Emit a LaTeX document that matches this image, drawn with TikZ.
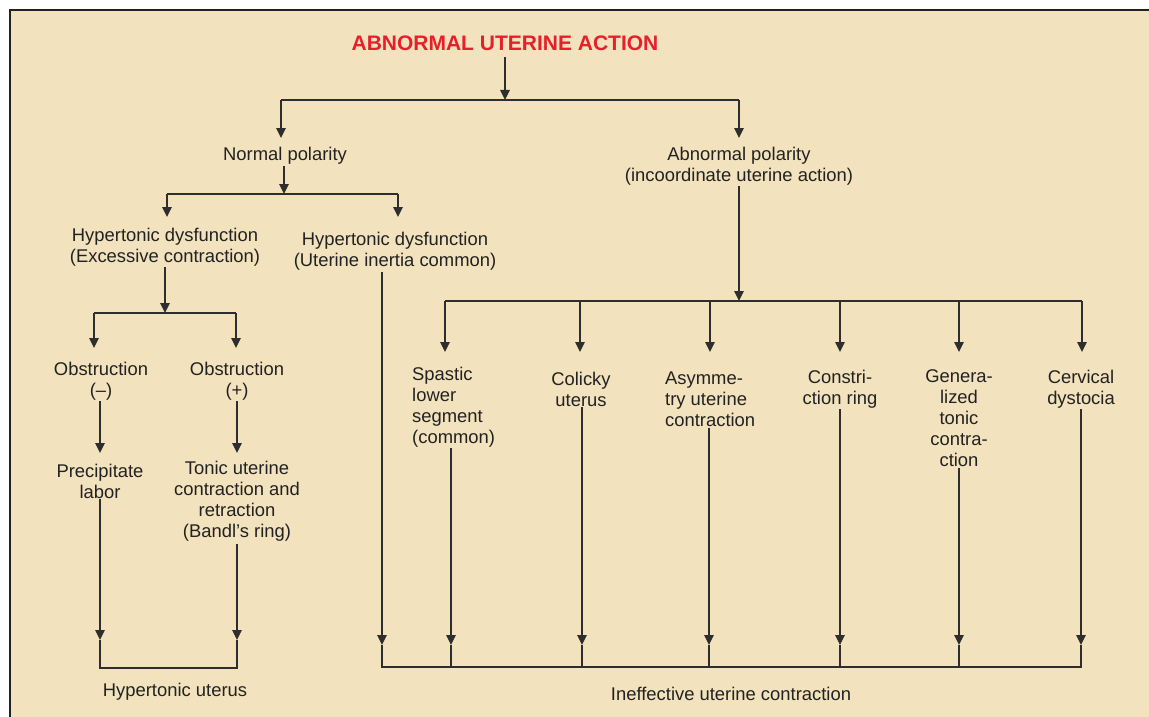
\documentclass[tikz,border=0pt]{standalone}
\usepackage{fontspec}
\setmainfont{Liberation Sans}
\usetikzlibrary{arrows.meta}
\definecolor{bg}{HTML}{F2E2BD}
\definecolor{ink}{HTML}{222222}
\definecolor{linec}{HTML}{2E2E2E}
\definecolor{titlered}{HTML}{E5202A}
\begin{document}
\begin{tikzpicture}[x=1pt,y=-1pt,
  every node/.style={font=\fontsize{18.4}{21}\selectfont, text=ink, inner sep=0pt, align=center},
  line/.style={draw=linec, line width=1.3pt},
  arr/.style={line, -{Triangle[width=9.5pt,length=10pt]}},
  lbl/.style={},
  lbll/.style={align=left, anchor=west}]
% canvas
\useasboundingbox (0,0) rectangle (1149,717);
\fill[white] (0,0) rectangle (1149,717);
\fill[bg] (10,10) rectangle (1149,717);
\draw[ink, line width=2.5pt] (10,717) -- (10,10) -- (1149,10);

% nodes
\node[font=\bfseries\fontsize{21}{25}\selectfont, text=titlered] (title) at (505,43) {ABNORMAL UTERINE ACTION};
\node[lbl] (np) at (285,156) {Normal polarity};
\node[lbl] (ap) at (739,166) {Abnormal polarity\\(incoordinate uterine action)};
\node[lbl] (hd1) at (165,247) {Hypertonic dysfunction\\(Excessive contraction)};
\node[lbl] (hd2) at (395,251) {Hypertonic dysfunction\\(Uterine inertia common)};
\node[lbl] (ob1) at (101,381) {Obstruction\\(–)};
\node[lbl] (ob2) at (237,381) {Obstruction\\(+)};
\node[lbl] (pl) at (100,481) {Precipitate\\labor};
\node[lbl] (tu) at (237,501) {Tonic uterine\\contraction and\\retraction\\(Bandl’s ring)};
\node[lbl] (hu) at (175,692) {Hypertonic uterus};
\node[lbll] (sp) at (412,407) {Spastic\\lower\\segment\\(common)};
\node[lbl] (cu) at (581,389) {Colicky\\uterus};
\node[lbll] (asy) at (665,399) {Asymme-\\try uterine\\contraction};
\node[lbl] (cr) at (840,389) {Constri-\\ction ring};
\node[lbl] (gt) at (959,418) {Genera-\\lized\\tonic\\contra-\\ction};
\node[lbl] (cd) at (1081,389) {Cervical\\dystocia};
\node[lbl] (ie) at (731,694) {Ineffective uterine contraction};

% junction coordinates
\coordinate (A) at (505,100);
\coordinate (Al) at (281,100);
\coordinate (Ar) at (739,100);
\coordinate (np-in) at (281,138);
\coordinate (ap-in) at (739,138);
\coordinate (B) at (284,194);
\coordinate (Bl) at (167,194);
\coordinate (Br) at (398,194);
\coordinate (hd1-in) at (167,217);
\coordinate (hd2-in) at (398,217);
\coordinate (C) at (165,313);
\coordinate (Cl) at (94,313);
\coordinate (Cr) at (236,313);
\coordinate (ob1-in) at (94,348);
\coordinate (ob2-in) at (236,348);
\coordinate (pl-in) at (100,453);
\coordinate (tu-in) at (237,453);
\coordinate (D) at (739,301);
\coordinate (Dl) at (445,301);
\coordinate (Dr) at (1082,301);
\coordinate (sp-in) at (445,352);
\coordinate (cu-in) at (580,352);
\coordinate (asy-in) at (710,352);
\coordinate (cr-in) at (840,352);
\coordinate (gt-in) at (959,352);
\coordinate (cd-in) at (1082,352);
\coordinate (E1) at (100,640);
\coordinate (E2) at (237,640);
\coordinate (El) at (100,668);
\coordinate (Er) at (237,668);
\coordinate (F1) at (382,645);
\coordinate (F2) at (451,645);
\coordinate (F3) at (582,645);
\coordinate (F4) at (709,645);
\coordinate (F5) at (840,645);
\coordinate (F6) at (959,645);
\coordinate (F7) at (1081,645);
\coordinate (Fl) at (382,667);
\coordinate (Fr) at (1081,667);

% top level
\draw[arr, shorten <=6pt] (title.south -| A) -- (A);
\draw[line] (Al) -- (Ar);
\draw[arr] (Al) -- (np-in);
\draw[arr] (Ar) -- (ap-in);

% normal polarity branch
\draw[arr, shorten <=1pt] (np.south -| B) -- (B);
\draw[line] (Bl) -- (Br);
\draw[arr] (Bl) -- (hd1-in);
\draw[arr] (Br) -- (hd2-in);
\draw[arr, shorten <=1pt] (hd1.south -| C) -- (C);
\draw[line] (Cl) -- (Cr);
\draw[arr] (Cl) -- (ob1-in);
\draw[arr] (Cr) -- (ob2-in);
\draw[arr, shorten <=1pt] (ob1.south -| pl-in) -- (pl-in);
\draw[arr, shorten <=1pt] (ob2.south -| tu-in) -- (tu-in);
\draw[arr, shorten <=1pt] (pl.south -| E1) -- (E1);
\draw[arr, shorten <=3pt] (tu.south -| E2) -- (E2);
\draw[line] (E1) -- (El) -- (Er) -- (E2);

% abnormal polarity branch
\draw[arr, shorten <=1pt] (ap.south -| D) -- (D);
\draw[line] (Dl) -- (Dr);
\draw[arr] (Dl) -- (sp-in);
\draw[arr] (cu-in |- Dl) -- (cu-in);
\draw[arr] (asy-in |- Dl) -- (asy-in);
\draw[arr] (cr-in |- Dl) -- (cr-in);
\draw[arr] (gt-in |- Dl) -- (gt-in);
\draw[arr] (Dr) -- (cd-in);

% down to ineffective contraction
\draw[arr, shorten <=2pt] (hd2.south -| F1) -- (F1);
\draw[arr, shorten <=1pt] (sp.south -| F2) -- (F2);
\draw[arr, shorten <=1pt] (cu.south -| F3) -- (F3);
\draw[arr, shorten <=1pt] (asy.south -| F4) -- (F4);
\draw[arr, shorten <=1pt] (cr.south -| F5) -- (F5);
\draw[arr, shorten <=1pt] (gt.south -| F6) -- (F6);
\draw[arr, shorten <=1pt] (cd.south -| F7) -- (F7);
\draw[line] (F1) -- (Fl) -- (Fr) -- (F7);
\foreach \k in {F2,F3,F4,F5,F6} \draw[line] (\k) -- (\k |- Fl);
\end{tikzpicture}
\end{document}
